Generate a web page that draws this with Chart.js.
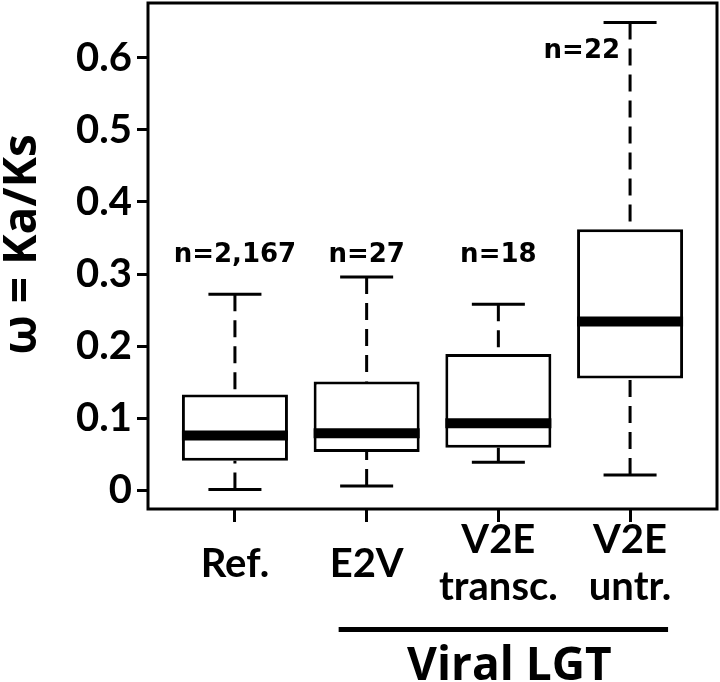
<!DOCTYPE html>
<html>
<head>
<meta charset="utf-8">
<script src="https://cdn.jsdelivr.net/npm/chart.js@4.4.1/dist/chart.umd.min.js"></script>
<style>
  html, body { margin: 0; padding: 0; background: #fff; }
  #wrap { width: 720px; height: 682px; }
</style>
</head>
<body>
<div id="wrap"><canvas id="box-chart"></canvas></div>
<script>
// groups on the x axis (multi-line labels)
const groups = [['Ref.'], ['E2V'], ['V2E', 'transc.'], ['V2E', 'untr.']];
const groupPos = [1, 2, 3, 4];

// box plot stats
const lower = [0.001, 0.006, 0.039, 0.021];
const q1 = [0.041, 0.053, 0.059, 0.155];
const median = [0.076, 0.079, 0.093, 0.234];
const q3 = [0.133, 0.151, 0.189, 0.362];
const upper = [0.272, 0.296, 0.258, 0.649];
const counts = ['n=2,167', 'n=27', 'n=18', 'n=22'];

const yTicks = [0, 0.1, 0.2, 0.3, 0.4, 0.5, 0.6];
const yTitle = 'ω = Ka/Ks';
const groupTitle = 'Viral LGT';

// whiskers, medians, frame and the annotations
const boxParts = {
  id: 'boxParts',
  afterDatasetsDraw(chart) {
    const { ctx, chartArea, scales: { x, y } } = chart;
    const bars = chart.getDatasetMeta(0).data;
    ctx.save();
    ctx.strokeStyle = '#000';
    ctx.fillStyle = '#000';
    ctx.lineCap = 'butt';

    groupPos.forEach((pos, i) => {
      const cx = x.getPixelForValue(pos);
      const half = bars[i].width / 2;

      ctx.lineWidth = 3;
      ctx.setLineDash([17, 9]);
      ctx.beginPath();
      ctx.moveTo(cx, y.getPixelForValue(upper[i]));
      ctx.lineTo(cx, y.getPixelForValue(q3[i]));
      ctx.moveTo(cx, y.getPixelForValue(lower[i]));
      ctx.lineTo(cx, y.getPixelForValue(q1[i]));
      ctx.stroke();

      ctx.setLineDash([]);
      ctx.beginPath();
      [upper[i], lower[i]].forEach(v => {
        const py = y.getPixelForValue(v);
        ctx.moveTo(cx - half / 2, py);
        ctx.lineTo(cx + half / 2, py);
      });
      ctx.stroke();

      ctx.lineWidth = 10;
      ctx.beginPath();
      const my = y.getPixelForValue(median[i]);
      ctx.moveTo(cx - half, my);
      ctx.lineTo(cx + half, my);
      ctx.stroke();
    });

    // n labels
    ctx.font = 'bold 26px "DejaVu Sans"';
    ctx.textBaseline = 'alphabetic';
    const topOfFirst = Math.min(...[0, 1, 2].map(i => y.getPixelForValue(upper[i])));
    counts.forEach((t, i) => {
      const cx = x.getPixelForValue(groupPos[i]);
      if (i < 3) {
        ctx.textAlign = 'center';
        ctx.fillText(t, cx, topOfFirst - 15);
      } else {
        ctx.textAlign = 'right';
        ctx.fillText(t, cx - 10, y.getPixelForValue(upper[i]) + 36);
      }
    });

    // frame
    ctx.lineWidth = 3;
    ctx.strokeRect(chartArea.left, chartArea.top, chartArea.width, chartArea.height);

    // group bracket under the viral columns
    const x0 = x.getPixelForValue(groupPos[1]) - 28;
    const x1 = x.getPixelForValue(groupPos[3]) + 38;
    ctx.lineWidth = 5;
    ctx.beginPath();
    ctx.moveTo(x0, chartArea.bottom + 120.5);
    ctx.lineTo(x1, chartArea.bottom + 120.5);
    ctx.stroke();
    ctx.font = 'bold 46px "Open Sans"';
    ctx.textAlign = 'center';
    ctx.fillText(groupTitle, (x0 + x1) / 2 + 6, chartArea.bottom + 171);
    ctx.restore();
  }
};

// keep the plot box where the figure has it
const noEdgePadding = s => {
  s.paddingTop = 0;
  s.paddingBottom = 0;
  s.paddingLeft = 0;
  s.paddingRight = 0;
};

const ctx = document.getElementById('box-chart').getContext('2d');

const chart = new Chart(ctx, {
  type: 'bar',
  data: {
    datasets: [
      {
        data: groupPos.map((p, i) => ({ x: p, y: [q1[i], q3[i]] })),
        backgroundColor: '#ffffff',
        borderColor: '#000000',
        borderWidth: 3,
        borderSkipped: false,
        categoryPercentage: 1,
        barPercentage: 0.805,
      },
    ],
  },
  options: {
    responsive: true,
    maintainAspectRatio: false,
    animation: false,
    layout: {
      padding: { top: 3, right: 3, bottom: 0, left: 0 },
    },
    plugins: {
      legend: false,
      tooltip: { enabled: false },
    },
    scales: {
      x: {
        type: 'linear',
        min: 0.34,
        max: 4.66,
        offset: false,
        border: { display: false },
        grid: {
          display: true,
          offset: false,
          drawOnChartArea: false,
          drawTicks: true,
          tickLength: 13,
          lineWidth: 3,
          color: '#000',
        },
        afterBuildTicks: axis => {
          axis.ticks = groupPos.map(v => ({ value: v }));
        },
        afterFit: s => {
          s.height = 173;
          noEdgePadding(s);
        },
        ticks: {
          autoSkip: false,
          maxRotation: 0,
          padding: 18,
          crossAlign: 'center',
          color: '#000',
          font: { family: 'Lato', weight: 'bold', size: 40, lineHeight: 1.18 },
          callback: (v, i) => groups[i],
        },
      },
      y: {
        min: -0.026,
        max: 0.676,
        border: { display: false },
        grid: {
          display: true,
          drawOnChartArea: false,
          drawTicks: true,
          tickLength: 11,
          lineWidth: 3,
          color: '#000',
        },
        afterBuildTicks: axis => {
          axis.ticks = yTicks.map(v => ({ value: v }));
        },
        afterFit: s => {
          s.width = 148;
          noEdgePadding(s);
        },
        ticks: {
          padding: 5,
          color: '#000',
          font: { family: 'Lato', weight: 'bold', size: 40 },
          callback: v => String(Math.round(v * 10) / 10),
        },
        title: {
          display: true,
          // leading en space nudges the title up a little, as in the figure
          text: '\u2002' + yTitle,
          color: '#000',
          padding: 0,
          font: { family: 'Open Sans', weight: 'bold', size: 46, lineHeight: 1 },
        },
      },
    },
  },
  plugins: [boxParts],
});
</script>
</body>
</html>
